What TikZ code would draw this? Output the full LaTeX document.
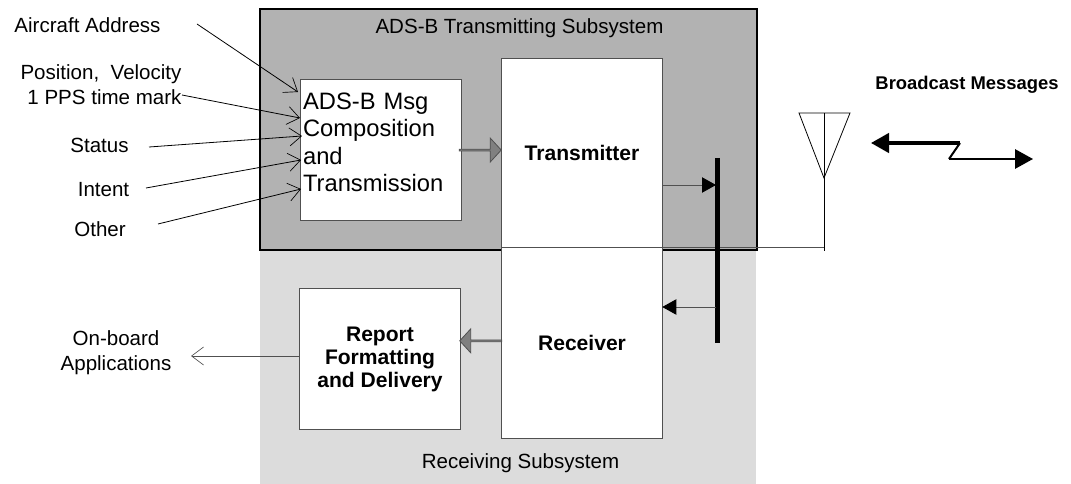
\documentclass[tikz,border=0pt]{standalone}
\usepackage{fontspec}
\setmainfont{Liberation Sans}
\usetikzlibrary{arrows.meta, positioning, shapes.arrows}
\definecolor{txgray}{HTML}{B2B2B2}
\definecolor{rxgray}{HTML}{DCDCDC}
\definecolor{fatgray}{HTML}{808080}
\definecolor{edgegray}{HTML}{505050}

\begin{document}
\begin{tikzpicture}[
            x = .75pt, y = -.75pt,
node distance = 0pt,
          box/.style = {draw=edgegray, fill=white, line width=.8pt, outer sep=0pt, inner sep=0pt, align=center},
      unitbox/.style = {box, minimum width=120.4pt, font=\fontsize{15.8}{17.3}\selectfont\bfseries},
       msgbox/.style = {box, minimum width=120.7pt, minimum height=105.4pt, align=left,
                        text width=116.5pt, font=\fontsize{17.8}{20.6}\selectfont},
      source/.style = {inner sep=0pt, align=right, font=\fontsize{15.4}{18.7}\selectfont},
    fatarrow/.style = {single arrow, draw=edgegray, fill=fatgray, line width=.6pt, inner sep=0pt, outer sep=0pt,
                       minimum width=18pt, minimum height=31.5pt,
                       single arrow head extend=3.75pt, single arrow tip angle=95},
          thin/.style = {line width=.6pt, -{Straight Barb[length=9pt,width=13.5pt,line width=.5pt]}},
      tobus/.style = {draw=edgegray, line width=.7pt, -{Triangle[length=10.5pt,width=11.5pt,fill=black,color=black]}},
        ]
\useasboundingbox (0,0) rectangle (1071,484);
% subsystems
\fill[rxgray] (260,250) rectangle (756,484);
\draw[fill=txgray, line width=1.6pt] (260,9) rectangle (757,250);
\node (txtitle)  at (519.5,28)  [source, align=center] {ADS-B Transmitting Subsystem};
\node (rxtitle)  at (520.5,463) [source, align=center] {Receiving Subsystem};
% boxes
\node (transmitter) at (582,153.25) [unitbox, minimum height=142pt]  {Transmitter};
\node (receiver)    [unitbox, minimum height=143.2pt, below=of transmitter] {Receiver};
\node (msg)    [msgbox, left=30.4pt of transmitter, yshift=2.4pt] {ADS-B Msg\\Composition\\and\\Transmission\\[-9pt]\mbox{}};
\node (report) [unitbox, minimum height=106pt, left=31.1pt of receiver, yshift=-11.8pt] {Report\\Formatting\\and Delivery};
\node (txarrow) [fatarrow, right=-1.5pt of msg] {};
\node (rxarrow) [fatarrow, shape border rotate=180, left=of receiver, yshift=1.9pt] {};
% inputs
\node (address)  at (87.5,25) [source] {Aircraft Address};
\node (position) at (101,84.5) [source] {Position,\ \ Velocity\\1 PPS time mark};
\node (status)   at (99.5,145) [source] {Status};
\node (intent)   at (103.5,190) [source] {Intent};
\node (other)    at (100,229) [source] {Other};
\node (onboard)  at (116,353) [source, align=center] {On-board\\Applications};
\coordinate (a1) at (197,24);   \coordinate (a2) at (298,92);
\coordinate (p1) at (182,95);   \coordinate (p2) at (300,118);
\coordinate (s1) at (149,147);  \coordinate (s2) at (302,136);
\coordinate (i1) at (146,188);  \coordinate (i2) at (301,160);
\coordinate (o1) at (158,224);  \coordinate (o2) at (301,189);
\coordinate (out) at (191,356);
\draw[thin] (a1) -- (a2);
\draw[thin] (p1) -- (p2);
\draw[thin] (s1) -- (s2);
\draw[thin] (i1) -- (i2);
\draw[thin] (o1) -- (o2);
\draw[thin, draw=edgegray] (report.west |- out) -- (out);
% bus and antenna
\coordinate (bustop) at (717.5,158);
\coordinate (busbot) at (717.5,343);
\coordinate (bustx)  at (716,185);
\coordinate (busrx)  at (716,307);
\coordinate (antfoot)  at (824,251);
\coordinate (anttop)   at (824,113);
\coordinate (antapex)  at (824,178);
\coordinate (antleft)  at (799,113);
\coordinate (antright) at (850,113);
\draw[draw=edgegray, line width=.7pt] (receiver.north east) -- (receiver.north east -| antfoot);
\draw[line width=.6pt] (antfoot) -- (anttop);
\draw[line width=.6pt] (antleft) -- (antright) -- (antapex) -- cycle;
\draw[line width=3.8pt] (bustop) -- (busbot);
\draw[tobus] (transmitter.east |- bustx) -- (bustx);
\draw[tobus] (busrx) -- (receiver.east |- busrx);
% link
\node (broadcast) at (967,85) [source, align=center, font=\fontsize{13.8}{16}\selectfont\bfseries] {Broadcast Messages};
\coordinate (l1) at (871,143);
\coordinate (l2) at (960,143);
\coordinate (l3) at (949,159);
\coordinate (l4) at (1033,159);
\draw[line width=2.6pt, {Triangle[length=13.5pt,width=14.5pt]}-] (l1) -- (l2);
\draw[line width=1.5pt] (l2) -- (l3);
\draw[line width=1.5pt, -{Triangle[length=13.5pt,width=14.5pt]}] (l3) -- (l4);
\end{tikzpicture}
\end{document}
